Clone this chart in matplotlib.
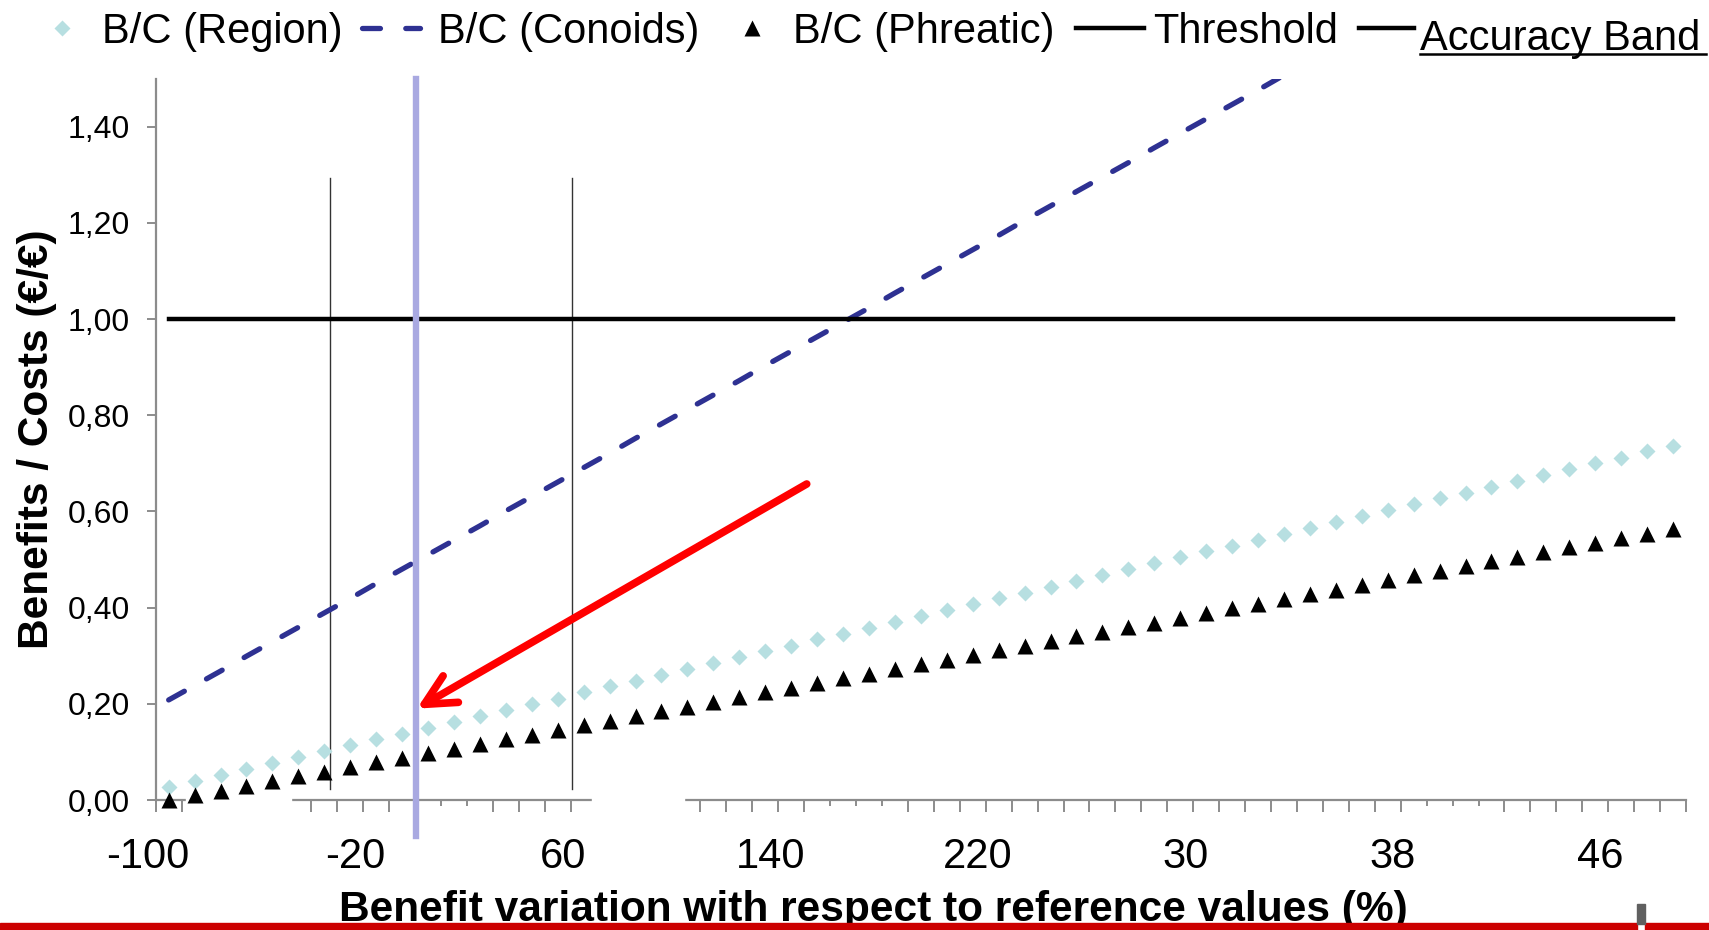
import matplotlib.pyplot as plt
from matplotlib.lines import Line2D
from matplotlib.patches import Rectangle
import numpy as np

# benefit variation (%), one category each
variation = list(range(-100, 490, 10))

# B/C values
region = [0.028, 0.040, 0.052, 0.065, 0.077, 0.089, 0.101, 0.114, 0.126, 0.138,
          0.150, 0.162, 0.175, 0.187, 0.199, 0.211, 0.224, 0.236, 0.248, 0.260,
          0.272, 0.285, 0.297, 0.309, 0.321, 0.334, 0.346, 0.358, 0.370, 0.382,
          0.395, 0.407, 0.419, 0.431, 0.443, 0.456, 0.468, 0.480, 0.492, 0.505,
          0.517, 0.529, 0.541, 0.553, 0.566, 0.578, 0.590, 0.602, 0.615, 0.627,
          0.639, 0.651, 0.663, 0.676, 0.688, 0.700, 0.712, 0.725, 0.737]
conoids = [0.208, 0.238, 0.268, 0.299, 0.329, 0.359, 0.389, 0.419, 0.450, 0.480,
           0.510, 0.540, 0.570, 0.601, 0.631, 0.661, 0.691, 0.721, 0.752, 0.782,
           0.812, 0.842, 0.872, 0.903, 0.933, 0.963, 0.993, 1.023, 1.054, 1.084,
           1.114, 1.144, 1.174, 1.205, 1.235, 1.265, 1.295, 1.325, 1.356, 1.386,
           1.416, 1.446, 1.476, 1.507, 1.537, 1.567, 1.597, 1.627, 1.658, 1.688,
           1.718, 1.748, 1.778, 1.809, 1.839, 1.869, 1.899, 1.929, 1.960]
phreatic = [0.000, 0.010, 0.019, 0.029, 0.039, 0.049, 0.058, 0.068, 0.078, 0.087,
            0.097, 0.107, 0.117, 0.126, 0.136, 0.146, 0.156, 0.165, 0.175, 0.185,
            0.194, 0.204, 0.214, 0.224, 0.233, 0.243, 0.253, 0.262, 0.272, 0.282,
            0.292, 0.301, 0.311, 0.321, 0.330, 0.340, 0.350, 0.360, 0.369, 0.379,
            0.389, 0.399, 0.408, 0.418, 0.428, 0.437, 0.447, 0.457, 0.467, 0.476,
            0.486, 0.496, 0.505, 0.515, 0.525, 0.535, 0.544, 0.554, 0.564]
threshold = 1.00

# x labels as they show (clipped in the original slide)
x_labels = ["-100", "-20", "60", "140", "220", "30", "38", "46"]
y_ticks = [0.0, 0.2, 0.4, 0.6, 0.8, 1.0, 1.2, 1.4]

# annotations, in category index / B/C units
band_x = [6.22, 15.55]
band_y = (0.022, 1.294)
focus_x = 9.54
arrow_from = (24.6, 0.657)
arrow_to = (9.57, 0.19)

W, H = 1709, 930
plt.rcParams['font.family'] = ['Liberation Sans', 'DejaVu Sans']

def fx(px):
    return px / W

def fy(py):
    return 1 - py / H

fig = plt.figure(figsize=(W / 100, H / 100), dpi=100)
L, R, B, T = 155.7, 1686, 800, 78.5
ax = fig.add_axes([fx(L), fy(B), (R - L) / W, (B - T) / H])

n = len(variation)
xs = np.arange(n)
gray = '#8C8C8C'
cyan = '#B7DFE1'
navy = '#2E3192'

ax.plot(xs, conoids, color=navy, lw=3.8, dashes=(3.4, 4.8),
        dash_capstyle='round', zorder=4)
ax.plot([xs[0], xs[-1]], [threshold, threshold], color='black', lw=3.2, zorder=4)
for bx in band_x:
    ax.plot([bx, bx], band_y, color='#333333', lw=1.0, zorder=3)
ax.plot([focus_x, focus_x], [-0.075, 1.5], color='#A9A9E1', lw=4.6,
        clip_on=False, zorder=4.5)
ax.plot(xs, region, 'D', color=cyan, ms=8.5, mec='none', zorder=5, clip_on=False)
ax.plot(xs, phreatic, '^', color='black', ms=11, mec='none', zorder=5, clip_on=False)

ax.annotate('', xy=arrow_to, xytext=arrow_from,
            arrowprops=dict(arrowstyle='->,head_length=1.0,head_width=0.5',
                            color='#FF0000', lw=5.5, mutation_scale=22,
                            shrinkA=0, shrinkB=0, capstyle='round'),
            zorder=6)

# axes
for s in ['top', 'right']:
    ax.spines[s].set_visible(False)
for s in ['left', 'bottom']:
    ax.spines[s].set_color(gray)
    ax.spines[s].set_linewidth(1.6)

short = [10, 11, 12, 26, 27, 28, 49, 50, 51]
ax.set_xticks([k - 0.5 for k in range(n + 1) if k not in short])
ax.set_xticks([k - 0.5 for k in short], minor=True)
ax.tick_params(axis='x', which='major', length=8.6, width=1.4, color=gray,
               labelbottom=False)
ax.tick_params(axis='x', which='minor', length=4.3, width=1.4, color=gray,
               labelbottom=False)
ax.set_yticks(y_ticks)
ax.set_yticklabels([f"{v:.2f}".replace('.', ',') for v in y_ticks])
ax.tick_params(axis='y', length=6.5, width=1.4, color=gray, labelsize=23, pad=12)

for k, lab in enumerate(x_labels):
    ax.text(8 * k - 0.8, -(868 - B) / (B - T), lab, transform=ax.get_xaxis_transform(),
            ha='center', va='baseline', fontsize=30)

# white patches hiding parts of the axis, as in the slide
for x0, x1 in [(186, 291), (592, 684)]:
    ax.add_patch(Rectangle((fx(x0), fy(816)), (x1 - x0) / W, 19 / H,
                           transform=fig.transFigure, color='white',
                           clip_on=False, zorder=3))

ax.set_xlim(-0.5, n - 0.5)
ax.set_ylim(0, 1.5)

fig.text(fx(873.6), fy(921), "Benefit variation with respect to reference values (%)",
         ha='center', va='baseline', fontsize=30.6, weight='bold')
fig.text(fx(37), fy(439), "Benefits / Costs (€/€)", rotation=90,
         ha='center', va='center', fontsize=30.6, weight='bold')

# legend drawn by hand along the top
ly = 28
fig.add_artist(Line2D([fx(62)], [fy(ly)], marker='D', ms=8.5, color=cyan,
                      mec='none', transform=fig.transFigure))
fig.text(fx(102), fy(43), "B/C (Region)", fontsize=30, va='baseline')
fig.add_artist(Line2D([fx(362), fx(420)], [fy(ly), fy(ly)], color=navy, lw=3.8,
                      dashes=(3.4, 4.8), dash_capstyle='round', transform=fig.transFigure))
fig.text(fx(438), fy(43), "B/C (Conoids)", fontsize=30, va='baseline')
fig.add_artist(Line2D([fx(752)], [fy(ly)], marker='^', ms=11, color='black',
                      mec='none', transform=fig.transFigure))
fig.text(fx(793), fy(43), "B/C (Phreatic)", fontsize=30, va='baseline')
fig.add_artist(Line2D([fx(1076), fx(1144)], [fy(ly), fy(ly)], color='black', lw=3.2,
                      transform=fig.transFigure))
fig.text(fx(1153), fy(43), "Threshold", fontsize=30, va='baseline')
fig.add_artist(Line2D([fx(1359), fx(1414)], [fy(ly), fy(ly)], color='black', lw=3.2,
                      transform=fig.transFigure))
fig.text(fx(1420), fy(50), "Accuracy Band", fontsize=30, va='baseline')
fig.add_artist(Line2D([fx(1420), fx(1706)], [fy(54), fy(54)], color='black', lw=1.8,
                      transform=fig.transFigure))

# red bar along the bottom of the slide
for x0, x1 in [(0, 1637), (1645, W)]:
    fig.add_artist(Rectangle((fx(x0), 0), (x1 - x0) / W, 7 / H, color='#CC0000',
                             transform=fig.transFigure, zorder=10))
fig.add_artist(Rectangle((fx(1637), fy(924)), 8 / W, 20 / H, color='#606060',
                         transform=fig.transFigure, zorder=10))

fig.savefig('out.png', dpi=100)
